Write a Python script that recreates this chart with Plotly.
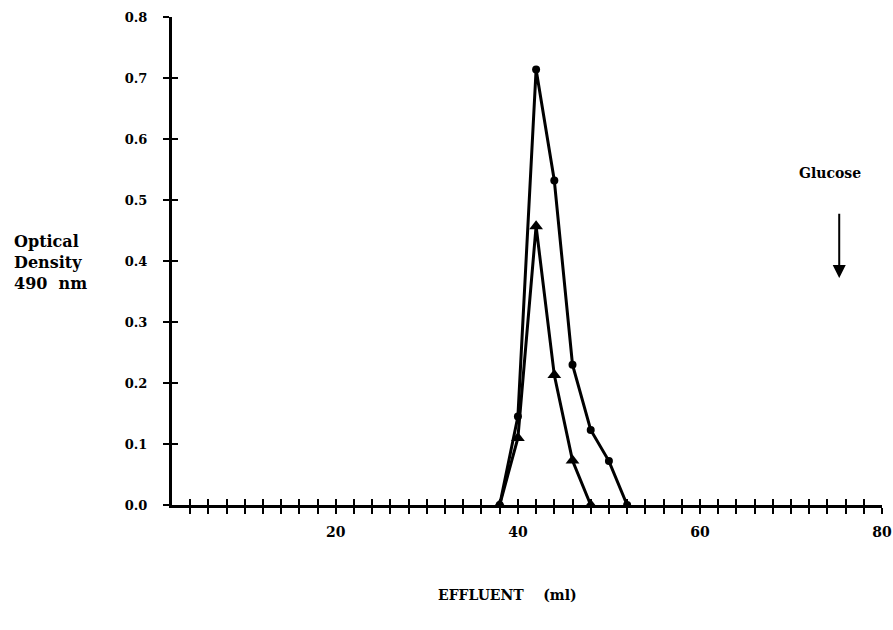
import plotly.graph_objects as go

# Data
effluent_circle = [38, 40, 42, 44, 46, 48, 50, 52]
od_circle = [0.0, 0.145, 0.714, 0.532, 0.230, 0.123, 0.072, 0.0]
effluent_triangle = [38, 40, 42, 44, 46, 48]
od_triangle = [0.0, 0.110, 0.457, 0.213, 0.073, 0.0]

x_tick_vals = list(range(4, 81, 2))
x_tick_labels = {20: "20", 40: "40", 60: "60", 80: "80"}
y_tick_vals = [0.0, 0.1, 0.2, 0.3, 0.4, 0.5, 0.6, 0.7, 0.8]
y_tick_text = ["0.0", "0.1", "0.2", "0.3", "0.4", "0.5", "0.6", "0.7", "0.8"]

glucose_x = 75.3
glucose_arrow_top = 0.48
glucose_arrow_bottom = 0.372
glucose_label_y = 0.545

FONT = "DejaVu Serif"
XR = [2, 80]
YR = [0, 0.8]

fig = go.Figure()
fig.add_trace(go.Scatter(
    x=effluent_circle, y=od_circle, mode="lines+markers",
    line=dict(color="black", width=3),
    marker=dict(symbol="circle", size=8, color="black"),
    showlegend=False, hoverinfo="skip"))
fig.add_trace(go.Scatter(
    x=effluent_triangle, y=od_triangle, mode="lines+markers",
    line=dict(color="black", width=3),
    marker=dict(symbol="triangle-up", size=12, color="black"),
    showlegend=False, hoverinfo="skip"))
# helper trace so the overlay axes (inner halves of the crossing ticks) exist
fig.add_trace(go.Scatter(x=[], y=[], xaxis="x2", yaxis="y2", showlegend=False))

fig.update_layout(
    width=893, height=630,
    margin=dict(l=172, r=11, t=17, b=125),
    paper_bgcolor="white", plot_bgcolor="white",
    font=dict(family=FONT, color="black"),
    xaxis=dict(
        range=XR, showgrid=False, zeroline=False, automargin=False,
        showline=True, linecolor="black", linewidth=3,
        tickmode="array", tickvals=x_tick_vals,
        ticktext=[x_tick_labels.get(v, "") for v in x_tick_vals],
        ticks="outside", ticklen=6, tickwidth=2, tickcolor="black",
        ticklabelstandoff=6,
        tickfont=dict(family=FONT, size=14, weight="bold"),
    ),
    yaxis=dict(
        range=YR, showgrid=False, zeroline=False, automargin=False,
        showline=True, linecolor="black", linewidth=3,
        tickmode="array", tickvals=y_tick_vals, ticktext=y_tick_text,
        ticks="outside", ticklen=6, tickwidth=2, tickcolor="black",
        ticklabelstandoff=13,
        tickfont=dict(family=FONT, size=13, weight="bold"),
    ),
    xaxis2=dict(
        range=XR, overlaying="x", anchor="y2", side="bottom", automargin=False,
        showgrid=False, zeroline=False, showline=False,
        tickmode="array", tickvals=x_tick_vals, showticklabels=False,
        ticks="inside", ticklen=6, tickwidth=2, tickcolor="black",
    ),
    yaxis2=dict(
        range=YR, overlaying="y", anchor="x2", side="left", automargin=False,
        showgrid=False, zeroline=False, showline=False,
        tickmode="array", tickvals=y_tick_vals, showticklabels=False,
        ticks="inside", ticklen=6, tickwidth=2, tickcolor="black",
    ),
)

fig.add_annotation(
    x=-0.2254, y=0.496, xref="paper", yref="paper",
    xanchor="left", yanchor="middle", align="left", showarrow=False,
    text="<b>Optical<br>Density<br>490  nm</b>",
    font=dict(family=FONT, size=16, color="black"))

fig.add_annotation(
    x=0.472, y=-0.184, xref="paper", yref="paper",
    xanchor="center", yanchor="middle", showarrow=False,
    text="<b>EFFLUENT    (ml)</b>",
    font=dict(family=FONT, size=14, color="black"))

fig.add_annotation(
    x=glucose_x - 1.0, y=glucose_label_y, xref="x", yref="y",
    showarrow=False, text="<b>Glucose</b>",
    font=dict(family=FONT, size=14, color="black"))

fig.add_annotation(
    x=glucose_x, y=glucose_arrow_bottom, xref="x", yref="y",
    ax=glucose_x, ay=glucose_arrow_top, axref="x", ayref="y",
    showarrow=True, arrowhead=2, arrowsize=1.3, arrowwidth=2,
    arrowcolor="black", text="")

fig.write_html("out.html", config={"displayModeBar": False},
               post_script="document.body.style.margin='0';")
